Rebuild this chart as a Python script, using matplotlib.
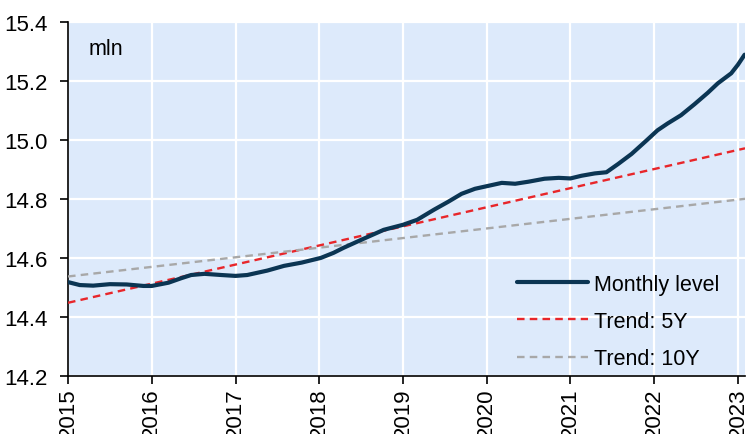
import matplotlib.pyplot as plt
import numpy as np

# monthly level, mln (decimal years)
level_x = [2015.0, 2015.14, 2015.3, 2015.5, 2015.7, 2015.9, 2016.0, 2016.2, 2016.35,
           2016.47, 2016.63, 2016.83, 2017.0, 2017.14, 2017.38, 2017.58, 2017.79,
           2018.02, 2018.17, 2018.29, 2018.5, 2018.77, 2019.0, 2019.17, 2019.37,
           2019.54, 2019.7, 2019.86, 2020.02, 2020.18, 2020.34, 2020.5, 2020.69,
           2020.86, 2021.0, 2021.13, 2021.29, 2021.43, 2021.57, 2021.73, 2021.91,
           2022.04, 2022.16, 2022.32, 2022.48, 2022.64, 2022.76, 2022.92, 2023.0, 2023.08]
level_y = [14.518, 14.508, 14.506, 14.511, 14.510, 14.505, 14.505, 14.516, 14.531,
           14.542, 14.546, 14.542, 14.539, 14.542, 14.557, 14.573, 14.584,
           14.600, 14.617, 14.634, 14.661, 14.695, 14.712, 14.729, 14.763,
           14.790, 14.817, 14.834, 14.844, 14.854, 14.851, 14.858, 14.868,
           14.871, 14.869, 14.878, 14.886, 14.890, 14.918, 14.952, 14.998,
           15.032, 15.055, 15.083, 15.120, 15.159, 15.191, 15.225, 15.254, 15.288]

# linear trends (end points)
trend_x = [2015.0, 2023.085]
trend5_y = [14.448, 14.971]
trend10_y = [14.537, 14.800]

years = list(range(2015, 2024))
yticks = [14.2, 14.4, 14.6, 14.8, 15.0, 15.2, 15.4]

plt.rcParams['font.family'] = ['Liberation Sans', 'DejaVu Sans']
fs = 15.5

fig = plt.figure(figsize=(7.46, 4.35), dpi=100)
ax = fig.add_axes([0.0912, 0.1333, 0.9075, 0.8147])
ax.set_facecolor('#DDEAFB')

ax.plot(level_x, level_y, color='#0B3553', lw=3.0, label='Monthly level',
        solid_capstyle='round', zorder=4)
ax.plot(trend_x, trend5_y, color='#E8262A', lw=1.7, ls=(0, (3.2, 2.2)), label='Trend: 5Y', zorder=3)
ax.plot(trend_x, trend10_y, color='#A8A8A8', lw=1.7, ls=(0, (3.2, 2.2)), label='Trend: 10Y', zorder=3)

ax.set_xlim(2015, 2023.085)
ax.set_ylim(14.2, 15.4)
ax.set_xticks(years)
ax.set_xticklabels([str(y) for y in years], rotation=90, fontsize=16)
ax.set_yticks(yticks)
ax.set_yticklabels([f'{v:.1f}' for v in yticks], fontsize=16)
ax.tick_params(axis='both', direction='out', length=6, width=1.2, color='black')
ax.tick_params(axis='y', pad=9)
ax.tick_params(axis='x', pad=2)

ax.grid(True, color='white', lw=1.6)
ax.set_axisbelow(True)
for s in ['top', 'right']:
    ax.spines[s].set_visible(False)
for s in ['left', 'bottom']:
    ax.spines[s].set_color('black')
    ax.spines[s].set_linewidth(1.2)

ax.text(0.03, 0.955, 'mln', transform=ax.transAxes, fontsize=fs, va='top', ha='left')

ax.legend(loc='lower left', bbox_to_anchor=(0.65, -0.005), frameon=False, fontsize=fs,
          handlelength=3.3, handletextpad=0.3, labelspacing=0.75, borderaxespad=0)

fig.savefig('out.png', dpi=100)
